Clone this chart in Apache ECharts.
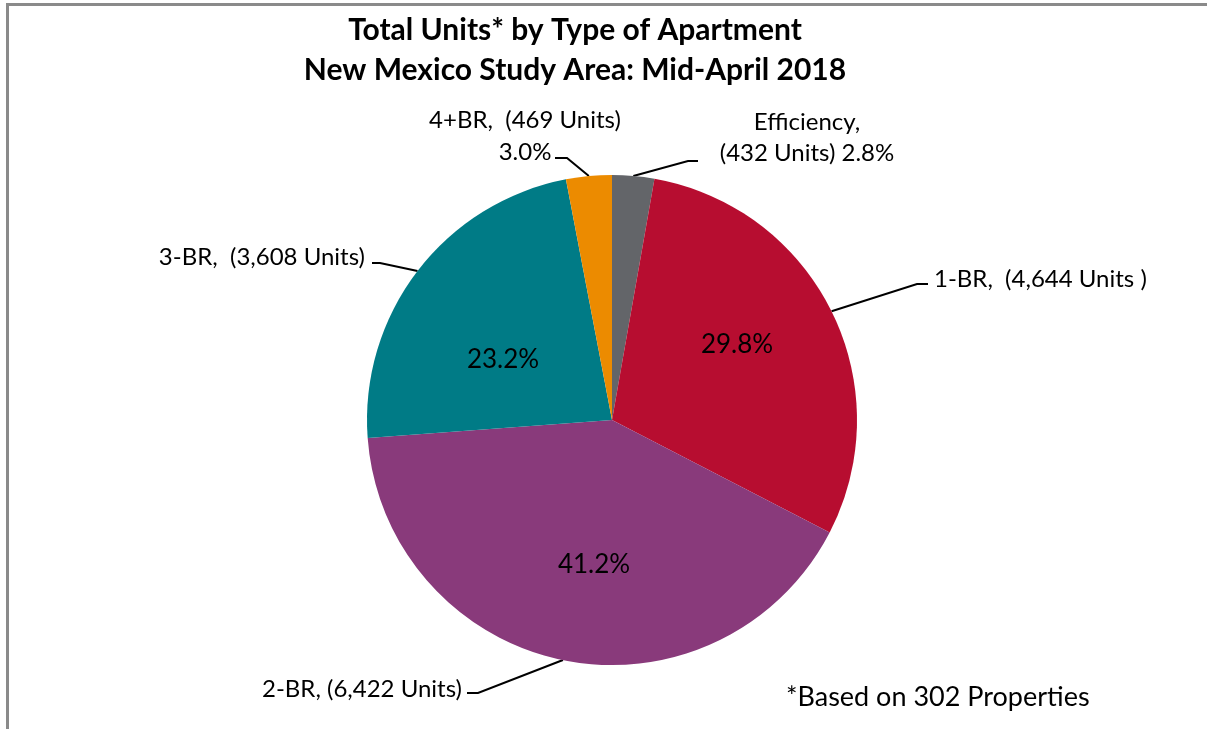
<!DOCTYPE html>
<html>
<head>
<meta charset="utf-8">
<script src="https://cdn.jsdelivr.net/npm/echarts@6/dist/echarts.min.js"></script>
<style>
  html, body { margin: 0; padding: 0; background: #fff; }
  #wrap { position: relative; width: 1207px; height: 729px; overflow: hidden; }
  #frame { position: absolute; left: 6px; top: 3px; width: 1300px; height: 800px;
           border-top: 3px solid #8a8a8a; border-left: 3px solid #8a8a8a; box-sizing: border-box; }
  #chart { position: absolute; left: 0; top: 0; width: 1207px; height: 729px; }
</style>
</head>
<body>
<div id="wrap">
  <div id="frame"></div>
  <div id="chart"></div>
</div>
<script>
// 公寓类型 单元数 饼图
var categories = ["Efficiency", "1-BR", "2-BR", "3-BR", "4+BR"];
var units = [432, 4644, 6422, 3608, 469];
var colors = ["#636569", "#b70d30", "#893a7b", "#007b86", "#ec8b00"];
// 外侧标签文字 (按原图的写法)
var outerLabels = [
  "Efficiency,\n(432 Units) 2.8%",
  "1-BR,  (4,644 Units )",
  "2-BR, (6,422 Units)",
  "3-BR,  (3,608 Units)",
  "4+BR,  (469 Units)\n3.0%"
];
// 哪些扇区在内部显示百分比
var showInside = [false, true, true, true, false];

var FONT = "Lato, 'Liberation Sans', sans-serif";

// 外侧标签和引导线的位置
var outerLayout = [
  { x: 807, y: 138, align: "center", lh: 31, turn: [688, 161], end: [698, 161] },
  { x: 934, y: 279, align: "left", lh: 28, turn: [917, 284], end: [928, 284] },
  { x: 462, y: 689, align: "right", lh: 28, turn: [478, 693], end: [467, 693] },
  { x: 365, y: 257, align: "right", lh: 28, turn: [380, 263], end: [372, 263] },
  { x: 525, y: 136, align: "center", lh: 32, turn: [567, 158], end: [555, 158] }
];
var innerLayout = [null, [737, 345], [594, 565], [503, 360], null];

var chart = echarts.init(document.getElementById("chart"));

var pieData = categories.map(function (name, i) {
  return {
    name: name,
    value: units[i],
    itemStyle: { color: colors[i] },
    label: { lineHeight: outerLayout[i].lh }
  };
});

chart.setOption({
  animation: false,
  title: {
    text: "Total Units* by Type of Apartment\nNew Mexico Study Area: Mid-April 2018",
    left: 570,
    top: 5,
    textAlign: "center",
    textStyle: {
      fontFamily: FONT,
      fontSize: 30,
      fontWeight: "bold",
      color: "#000",
      lineHeight: 40
    }
  },
  graphic: [
    {
      type: "text",
      left: 786,
      top: 684,
      style: {
        text: "*Based on 302 Properties",
        font: "27px " + FONT,
        fill: "#000"
      }
    }
  ],
  series: [
    {
      name: "units",
      type: "pie",
      center: [612, 420],
      radius: 245,
      startAngle: 90,
      clockwise: true,
      silent: true,
      data: pieData,
      label: {
        show: true,
        position: "outside",
        formatter: function (p) {
          return outerLabels[p.dataIndex];
        },
        fontFamily: FONT,
        fontSize: 24,
        color: "#000"
      },
      labelLine: {
        show: true,
        length: 30,
        length2: 10,
        lineStyle: { color: "#000", width: 2 }
      },
      labelLayout: function (params) {
        var o = outerLayout[params.dataIndex];
        var start = params.labelLinePoints ? params.labelLinePoints[0] : o.turn;
        return {
          x: o.x,
          y: o.y,
          align: o.align,
          verticalAlign: "middle",
          labelLinePoints: [start, o.turn, o.end]
        };
      }
    },
    {
      name: "percent",
      type: "pie",
      center: [612, 420],
      radius: 245,
      startAngle: 90,
      clockwise: true,
      silent: true,
      z: 3,
      itemStyle: { color: "rgba(0,0,0,0)" },
      data: categories.map(function (name, i) {
        return { name: name, value: units[i] };
      }),
      label: {
        show: true,
        position: "inside",
        formatter: function (p) {
          return showInside[p.dataIndex] ? p.percent.toFixed(1) + "%" : "";
        },
        fontFamily: FONT,
        fontSize: 26,
        color: "#000"
      },
      labelLine: { show: false },
      labelLayout: function (params) {
        var pos = innerLayout[params.dataIndex];
        if (!pos) {
          return {};
        }
        return { x: pos[0], y: pos[1], align: "center", verticalAlign: "middle" };
      }
    }
  ]
});
</script>
</body>
</html>
